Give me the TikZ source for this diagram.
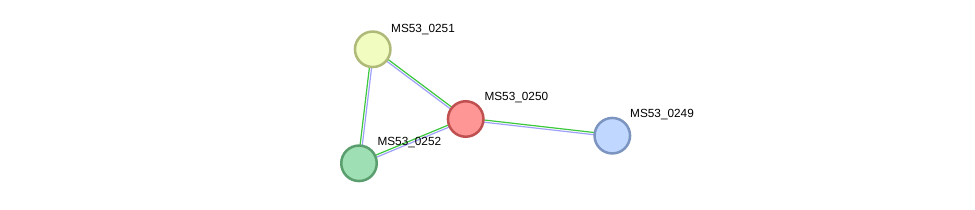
\documentclass[tikz,border=0pt]{standalone}
\usepackage{fontspec}
\setmainfont{Liberation Sans}
\usetikzlibrary{calc,backgrounds}
\definecolor{egreen}{RGB}{60,200,60}
\definecolor{eblue}{RGB}{160,160,250}
\definecolor{fA}{RGB}{240,252,192}\definecolor{sA}{RGB}{176,186,120}
\definecolor{fB}{RGB}{255,150,150}\definecolor{sB}{RGB}{192,80,80}
\definecolor{fC}{RGB}{158,224,180}\definecolor{sC}{RGB}{90,158,110}
\definecolor{fD}{RGB}{192,216,255}\definecolor{sD}{RGB}{124,148,192}
\tikzset{
  prot/.style={circle,minimum size=35.5pt,inner sep=0pt,line width=2.5pt},
  lbl/.style={anchor=base west,inner sep=0pt,font=\fontsize{11.8}{14}\selectfont},
  gline/.style={egreen,line width=1.2pt},
  bline/.style={eblue,line width=1.2pt}
}
\newcommand\pedge[2]{%
  \draw[gline] ($(#1)!1.1pt!90:(#2)$) -- ($(#2)!1.1pt!-90:(#1)$);
  \draw[bline] ($(#1)!1.1pt!-90:(#2)$) -- ($(#2)!1.1pt!90:(#1)$);
}
\begin{document}
\begin{tikzpicture}[x=1pt,y=1pt]
\useasboundingbox (0,0) rectangle (975,209);
\node[prot,fill=fA,draw=sA] (n0251) at (372.7,159.7) {};
\node[prot,fill=fB,draw=sB] (n0250) at (465.7,90) {};
\node[prot,fill=fC,draw=sC] (n0252) at (359,45.7) {};
\node[prot,fill=fD,draw=sD] (n0249) at (612.3,73.3) {};
\begin{scope}[on background layer]
\fill[white] (0,0) rectangle (975,209);
\pedge{n0251}{n0250}
\pedge{n0252}{n0251}
\pedge{n0252}{n0250}
\pedge{n0250}{n0249}
\end{scope}
\node[lbl] (l0251) at (391,176.7) {MS53\_0251};
\node[lbl] (l0250) at (484.3,108.3) {MS53\_0250};
\node[lbl] (l0252) at (377.3,63.3) {MS53\_0252};
\node[lbl] (l0249) at (630,91.3) {MS53\_0249};
\end{tikzpicture}
\end{document}
